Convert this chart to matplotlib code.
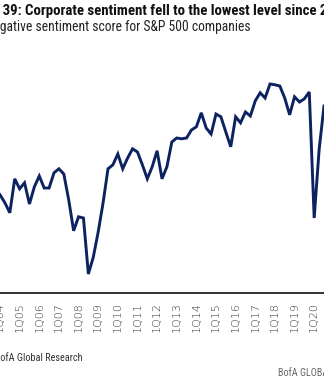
import numpy as np
import matplotlib
matplotlib.use("Agg")
import matplotlib.pyplot as plt
from matplotlib import font_manager as fm

# ---------------- data ----------------
quarters = ["1Q04", "2Q04", "3Q04", "4Q04",
            "1Q05", "2Q05", "3Q05", "4Q05", "1Q06", "2Q06", "3Q06", "4Q06",
            "1Q07", "2Q07", "3Q07", "4Q07", "1Q08", "2Q08", "3Q08", "4Q08",
            "1Q09", "2Q09", "3Q09", "4Q09", "1Q10", "2Q10", "3Q10", "4Q10",
            "1Q11", "2Q11", "3Q11", "4Q11", "1Q12", "2Q12", "3Q12", "4Q12",
            "1Q13", "2Q13", "3Q13", "4Q13", "1Q14", "2Q14", "3Q14", "4Q14",
            "1Q15", "2Q15", "3Q15", "4Q15", "1Q16", "2Q16", "3Q16", "4Q16",
            "1Q17", "2Q17", "3Q17", "4Q17", "1Q18", "2Q18", "3Q18", "4Q18",
            "1Q19", "2Q19", "3Q19", "4Q19", "1Q20", "2Q20", "3Q20"]
score = [1.13, 0.93, 0.68, 1.53,
         1.28, 1.43, 0.90, 1.33, 1.60, 1.30, 1.30, 1.68,
         1.78, 1.65, 1.00, 0.23, 0.58, 0.55, -0.85, -0.43,
         0.20, 0.93, 1.78, 1.88, 2.15, 1.78, 2.05, 2.28,
         2.20, 1.88, 1.53, 1.83, 2.23, 1.53, 1.83, 2.45,
         2.55, 2.53, 2.55, 2.75, 2.83, 3.18, 2.80, 2.65,
         3.15, 3.08, 2.70, 2.33, 3.08, 2.93, 3.20, 3.10,
         3.48, 3.68, 3.55, 3.90, 3.88, 3.85, 3.55, 3.13,
         3.58, 3.45, 3.53, 3.70, 0.55, 2.25, 3.35]

title = "Chart 39: Corporate sentiment fell to the lowest level since 2020"
subtitle = "Net negative sentiment score for S&P 500 companies"
source = "Source: BofA Global Research"
brand = "BofA GLOBAL RESEARCH"

# ---------------- fonts ----------------
names = {f.name for f in fm.fontManager.ttflist}
narrow = None
for cand in ["Liberation Sans Narrow", "Roboto Condensed", "Open Sans Condensed",
             "DejaVu Sans Condensed", "Roboto", "Open Sans"]:
    if cand in names:
        narrow = cand
        break
plt.rcParams["font.family"] = [narrow, "DejaVu Sans"]

W, H = 324, 382
fig = plt.figure(figsize=(W / 100, H / 100), dpi=100)
fig.patch.set_facecolor("white")

# axes spans pixel rows 60..293, full width
ax = fig.add_axes([0, (H - 293) / H, 1, (293 - 60) / H])
x = np.arange(len(quarters))
ax.plot(x, score, color="#0d2260", lw=2.1, solid_joinstyle="miter")

# pixel mapping: 1Q05 at px 14, 5 px per quarter
i05 = quarters.index("1Q05")
ax.set_xlim(i05 - 14 / 5, i05 + (W - 14) / 5)
ax.set_ylim(-1.325, 4.5)

tick_pos = [i for i, q in enumerate(quarters) if q.startswith("1Q")]
ax.set_xticks(tick_pos)
ax.set_xticklabels([quarters[i] for i in tick_pos], rotation=90,
                   fontsize=8.0, color="#333333", fontweight="light",
                   family=["DejaVu Sans"])
ax.tick_params(axis="x", length=0, pad=6.5)
ax.set_yticks([])
for s in ["left", "right", "top"]:
    ax.spines[s].set_visible(False)
ax.spines["bottom"].set_linewidth(1.2)
ax.spines["bottom"].set_color("#111111")

# ---------- texts (positioned so that hidden prefixes fall off-canvas) ----------
renderer = fig.canvas.get_renderer()


def width_px(s, **kw):
    t = fig.text(0, 0, s, **kw)
    w = t.get_window_extent(renderer).width
    t.remove()
    return w


def place(full, prefix_full, visible_part, x_vis, baseline, **kw):
    off = width_px(prefix_full, **kw) - width_px(visible_part, **kw)
    fig.text((x_vis - off) / W, 1 - baseline / H, full, va="baseline", ha="left", **kw)


tkw = dict(fontsize=10.7, fontweight="bold", color="#111111")
place(title, "Chart 39", "39", 3, 15.5, **tkw)

skw = dict(fontsize=9.8, color="#222222")
place(subtitle, "Net negative", "gative", 0, 31.5, **skw)

ckw = dict(fontsize=7.4, color="#333333")
place(source, "Source: BofA", "ofA", 0, 361, **ckw)

fig.text(278 / W, 1 - 376 / H, brand, va="baseline", ha="left",
         fontsize=7.3, color="#666666")

fig.savefig("out.png", dpi=100)
